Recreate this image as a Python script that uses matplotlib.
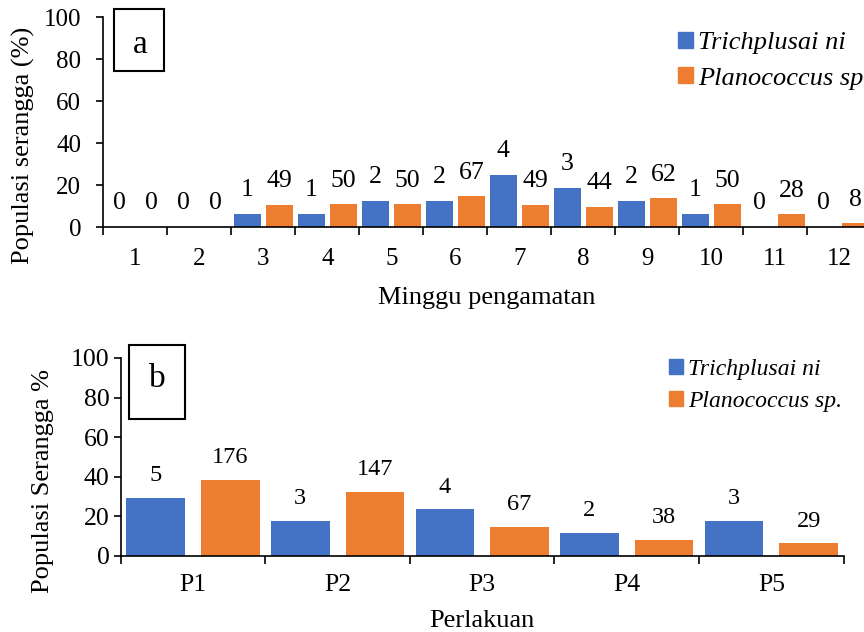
import matplotlib
matplotlib.use("Agg")
import matplotlib.pyplot as plt
import numpy as np
from matplotlib.patches import Patch, Rectangle

plt.rcParams["font.family"] = ["Liberation Serif", "DejaVu Serif"]

BIRU = "#4472C4"
ORANYE = "#ED7D31"

# Panel a: populasi per minggu pengamatan (%), label = jumlah individu
minggu = ["1", "2", "3", "4", "5", "6", "7", "8", "9", "10", "11", "12"]
trich_pct_a = [0, 0, 6.3, 6.3, 12.5, 12.5, 25.0, 18.8, 12.5, 6.3, 0, 0]
plano_pct_a = [0, 0, 10.7, 10.9, 10.9, 14.7, 10.7, 9.6, 13.6, 10.9, 6.1, 1.8]
trich_n_a = [0, 0, 1, 1, 2, 2, 4, 3, 2, 1, 0, 0]
plano_n_a = [0, 0, 49, 50, 50, 67, 49, 44, 62, 50, 28, 8]

# Panel b: populasi per perlakuan (%)
perlakuan = ["P1", "P2", "P3", "P4", "P5"]
trich_pct_b = [29.4, 17.6, 23.5, 11.8, 17.6]
plano_pct_b = [38.5, 32.2, 14.7, 8.3, 6.3]
trich_n_b = [5, 3, 4, 2, 3]
plano_n_b = [176, 147, 67, 38, 29]


def gambar_panel(ax, kategori, pct1, pct2, n1, n2, lebar, geser,
                 tick_fs, label_fs, pad_x, pad_y, offset_label):
    x = np.arange(len(kategori))
    ax.bar(x - geser, pct1, width=lebar, color=BIRU)
    ax.bar(x + geser, pct2, width=lebar, color=ORANYE)

    for xi, h, n in zip(x - geser, pct1, n1):
        ax.annotate(str(n), xy=(xi, h), xytext=(0, offset_label),
                    textcoords="offset points", ha="center", va="center",
                    fontsize=label_fs)
    for xi, h, n in zip(x + geser, pct2, n2):
        ax.annotate(str(n), xy=(xi, h), xytext=(0, offset_label),
                    textcoords="offset points", ha="center", va="center",
                    fontsize=label_fs)

    ax.set_xlim(-0.5, len(kategori) - 0.5)
    ax.set_ylim(0, 100)
    ax.set_yticks([0, 20, 40, 60, 80, 100])

    # tick di batas kategori, label di tengah
    ax.set_xticks(np.arange(len(kategori) + 1) - 0.5)
    ax.set_xticklabels([])
    ax.set_xticks(x, minor=True)
    ax.set_xticklabels(kategori, minor=True)
    ax.tick_params(axis="x", which="major", direction="out", length=6, width=1.2)
    ax.tick_params(axis="x", which="minor", length=0, pad=pad_x, labelsize=tick_fs)
    ax.tick_params(axis="y", direction="out", length=5, width=1.2,
                   pad=pad_y, labelsize=tick_fs)

    for s in ["top", "right"]:
        ax.spines[s].set_visible(False)
    for s in ["left", "bottom"]:
        ax.spines[s].set_linewidth(1.2)


fig = plt.figure(figsize=(8.64, 6.32), dpi=100)

# ---- panel a ----
ax1 = fig.add_axes([0.1196, 0.6408, 0.8889, 0.3323])
gambar_panel(ax1, minggu, trich_pct_a, plano_pct_a, trich_n_a, plano_n_a,
             lebar=0.415, geser=0.25, tick_fs=18, label_fs=18.5,
             pad_x=15, pad_y=11, offset_label=17)
# legenda sengaja terpotong di tepi kanan seperti gambar asli
ax1.legend(handles=[Patch(color=BIRU), Patch(color=ORANYE)],
           labels=["Trichplusai ni", "Planococcus sp."],
           loc="upper left", bbox_to_anchor=(678 / 864, 1 - 32 / 632),
           bbox_transform=fig.transFigure, frameon=False,
           prop={"style": "italic", "size": 19},
           handlelength=0.55, handleheight=0.55, handletextpad=0.2,
           borderpad=0, borderaxespad=0, labelspacing=0.5)
fig.add_artist(Rectangle((114 / 864, 1 - 71 / 632), 50 / 864, 62 / 632,
                         transform=fig.transFigure, fill=False,
                         edgecolor="black", linewidth=1.5))
fig.text(140 / 864, 1 - 45 / 632, "a", ha="center", va="center", fontsize=24)
fig.text(23 / 864, 1 - 145 / 632, "Populasi serangga (%)", rotation=90,
         ha="center", va="center", fontsize=19)
fig.text(487 / 864, 1 - 304 / 632, "Minggu pengamatan",
         ha="center", va="baseline", fontsize=19)

# ---- panel b ----
ax2 = fig.add_axes([0.1397, 0.1203, 0.8368, 0.3133])
gambar_panel(ax2, perlakuan, trich_pct_b, plano_pct_b, trich_n_b, plano_n_b,
             lebar=0.405, geser=0.258, tick_fs=18.5, label_fs=17.5,
             pad_x=13, pad_y=3, offset_label=16)
ax2.legend(handles=[Patch(color=BIRU), Patch(color=ORANYE)],
           labels=["Trichplusai ni", "Planococcus sp."],
           loc="upper left", bbox_to_anchor=(669 / 864, 1 - 359 / 632),
           bbox_transform=fig.transFigure, frameon=False,
           prop={"style": "italic", "size": 17},
           handlelength=0.6, handleheight=0.6, handletextpad=0.2,
           borderpad=0, borderaxespad=0, labelspacing=0.45)
fig.add_artist(Rectangle((129 / 864, 1 - 419 / 632), 56 / 864, 74 / 632,
                         transform=fig.transFigure, fill=False,
                         edgecolor="black", linewidth=1.5))
fig.text(157 / 864, 1 - 379 / 632, "b", ha="center", va="center", fontsize=24)
fig.text(43 / 864, 1 - 481 / 632, "Populasi Serangga %", rotation=90,
         ha="center", va="center", fontsize=19)
fig.text(482 / 864, 1 - 627 / 632, "Perlakuan",
         ha="center", va="baseline", fontsize=19)

fig.savefig("out.png", dpi=100)
